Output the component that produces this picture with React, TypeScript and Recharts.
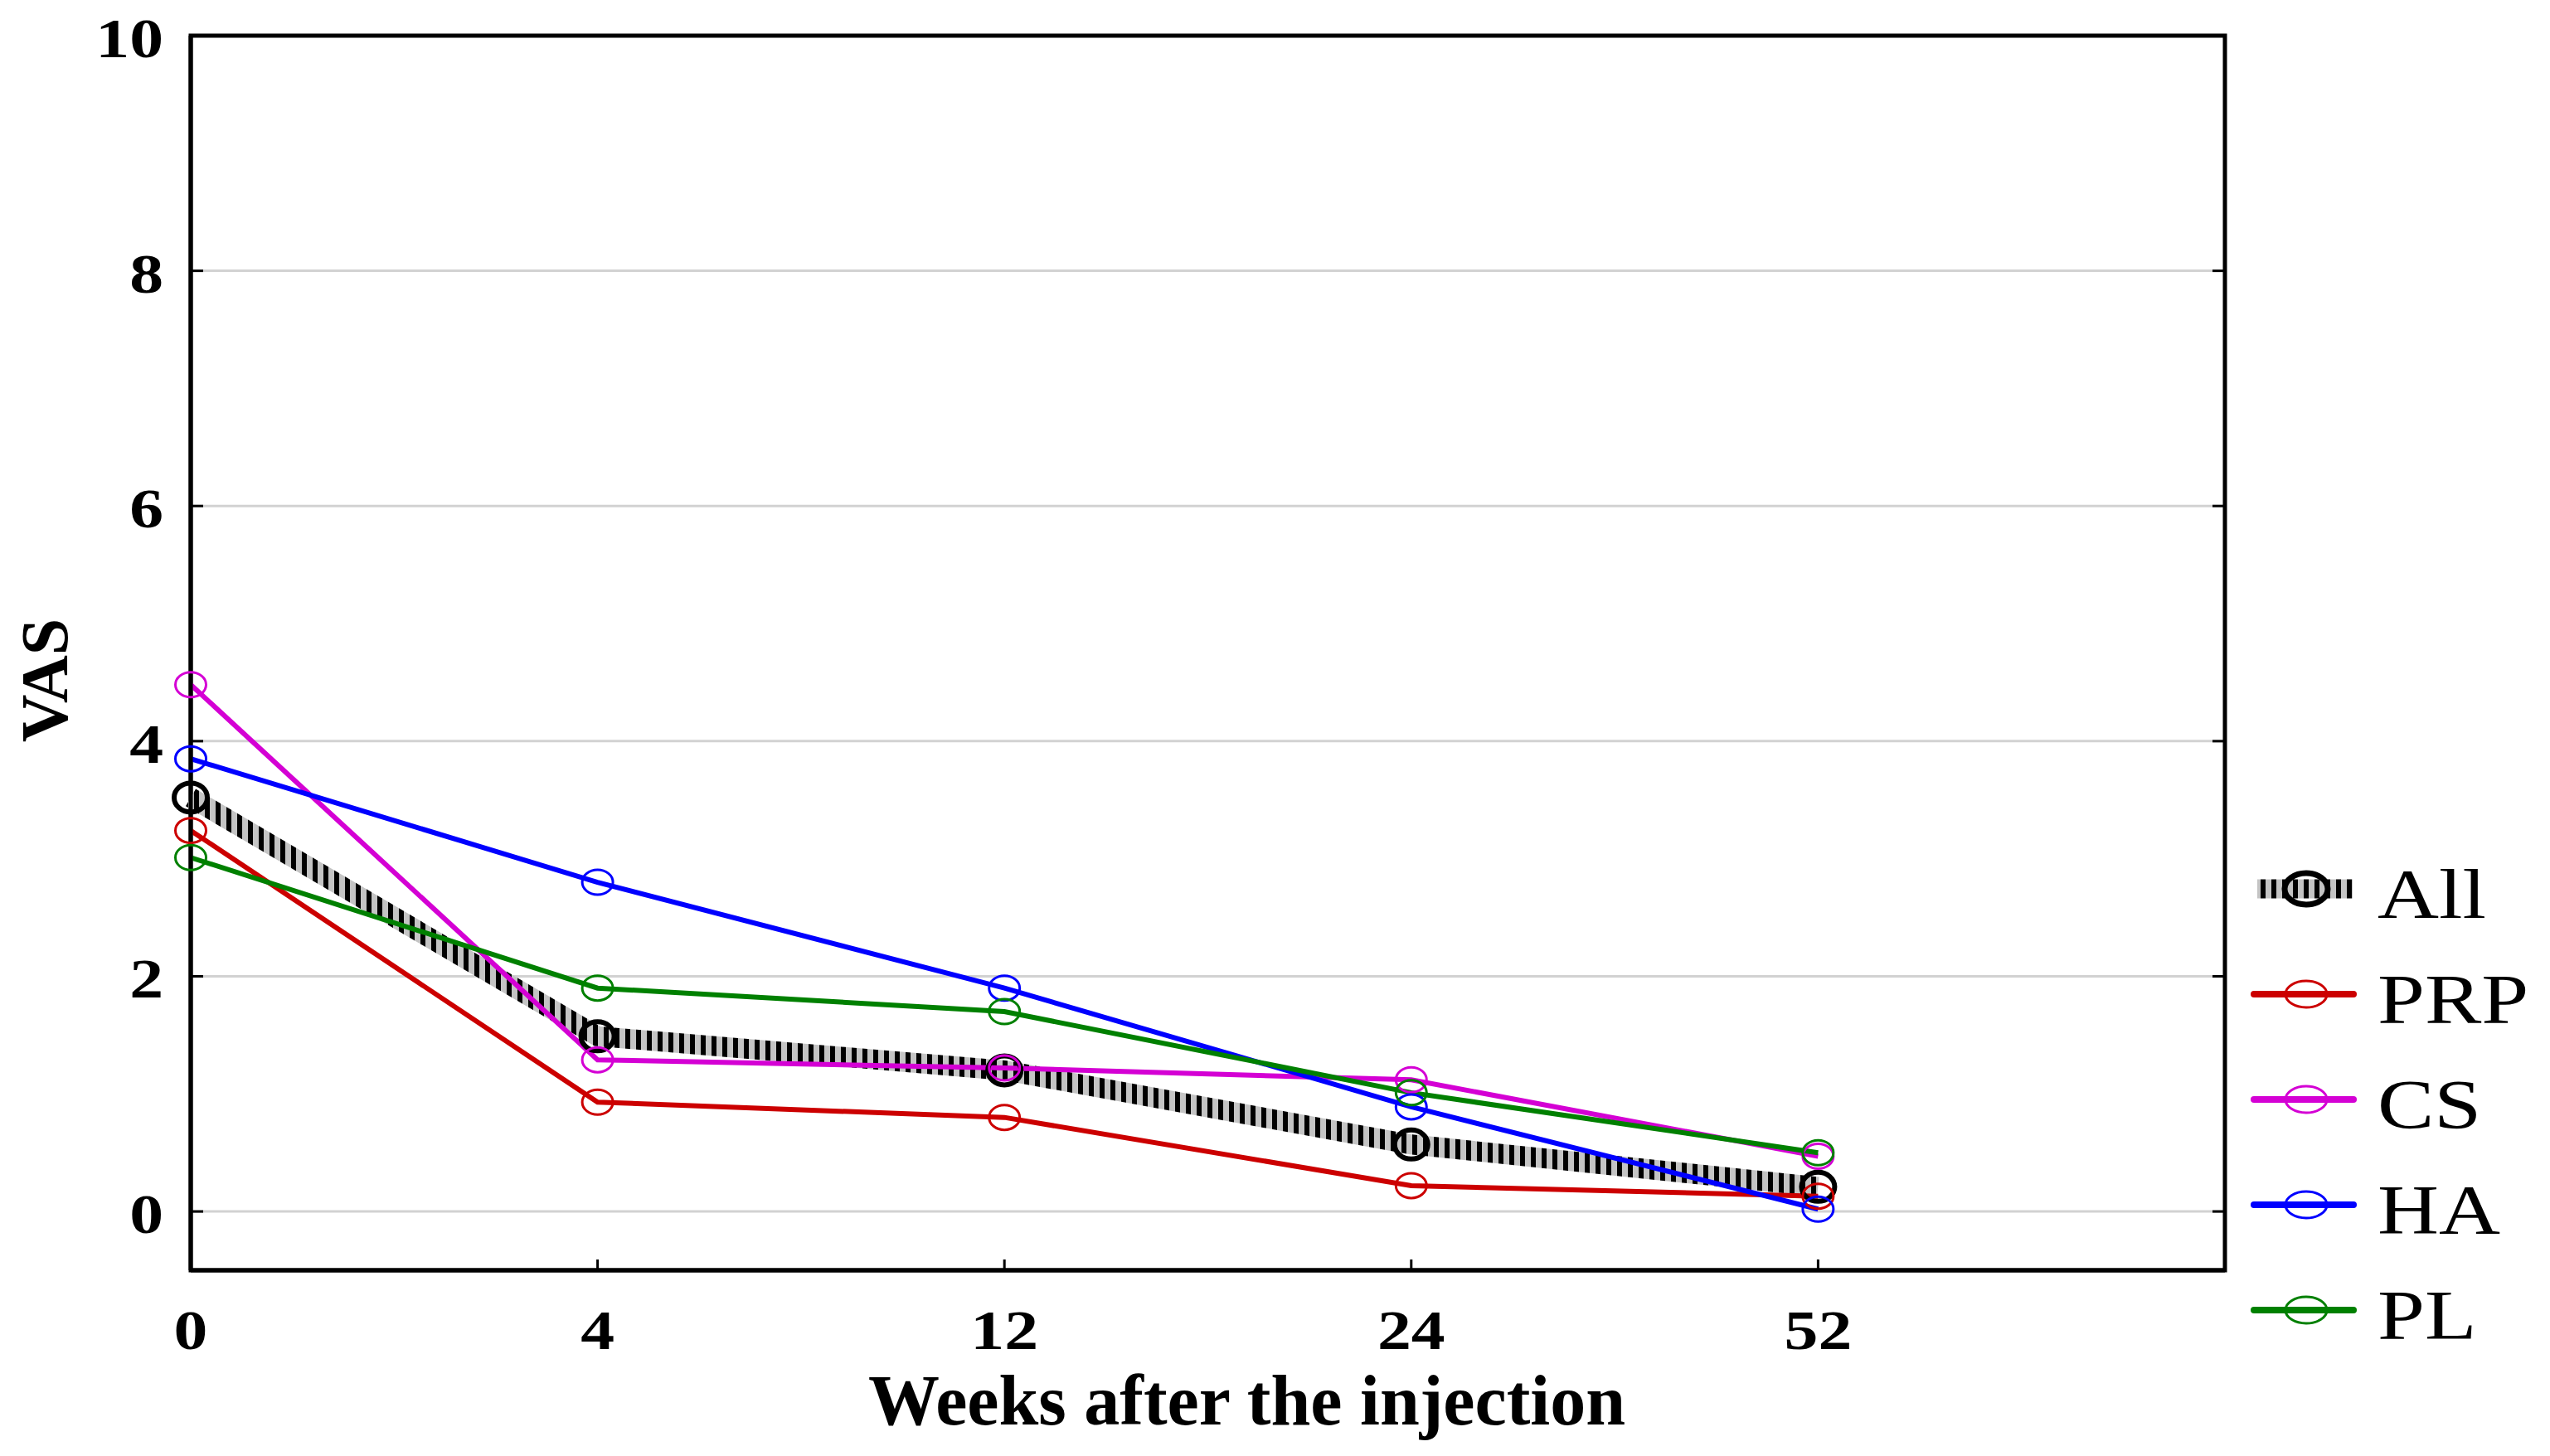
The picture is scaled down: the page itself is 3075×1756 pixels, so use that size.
import React from 'react';
import { LineChart, Line, XAxis, YAxis, CartesianGrid, Legend, ReferenceArea } from 'recharts';

const WEEKS = ['0', '4', '12', '24', '52'];
const ALL = [3.52, 1.49, 1.2, 0.57, 0.21];
const PRP = [3.24, 0.93, 0.8, 0.22, 0.13];
const CS = [4.48, 1.29, 1.22, 1.12, 0.47];
const HA = [3.85, 2.8, 1.9, 0.89, 0.02];
const PL = [3.01, 1.9, 1.7, 1.01, 0.5];
const Y_TICKS = [0, 2, 4, 6, 8, 10];
const X_TICKS = [0, 1, 2, 3, 4];
const X_DOMAIN: [number, number] = [0, 5];
const Y_DOMAIN: [number, number] = [-0.5, 10];
const SERIES_NAMES = ['All', 'PRP', 'CS', 'HA', 'PL'];
const SERIES_COLORS: Record<string, string> = {
  All: '#000000',
  PRP: '#cc0000',
  CS: '#d400d4',
  HA: '#0000ff',
  PL: '#008000',
};

const data = WEEKS.map((w, i) => ({
  idx: i,
  week: w,
  All: ALL[i],
  PRP: PRP[i],
  CS: CS[i],
  HA: HA[i],
  PL: PL[i],
}));

const CHART_W = 3075;
const CHART_H = 1756;
const MARGIN = { top: 43, right: 392, bottom: 0, left: 0 };
const Y_AXIS_W = 230;
const PLOT_W = CHART_W - MARGIN.right - MARGIN.left - Y_AXIS_W;

const SERIF = '"Liberation Serif", "Times New Roman", serif';

const YTick = (props: any) => {
  const { x, y, payload } = props;
  const inner = payload.value !== 10;
  return (
    <g>
      {inner && <line x1={x} y1={y} x2={x + 15} y2={y} stroke="#000" strokeWidth={3} />}
      {inner && (
        <line x1={x + PLOT_W} y1={y} x2={x + PLOT_W - 15} y2={y} stroke="#000" strokeWidth={3} />
      )}
      <text
        transform={`translate(${x - 33},${y + 26}) scale(1.22,1)`}
        textAnchor="end"
        fontFamily={SERIF}
        fontWeight="bold"
        fontSize={67}
        fill="#000"
      >
        {payload.value}
      </text>
    </g>
  );
};

const XTick = (props: any) => {
  const { x, y, payload } = props;
  return (
    <g>
      {payload.value !== 0 && (
        <line x1={x} y1={y} x2={x} y2={y - 13} stroke="#000" strokeWidth={3} />
      )}
      <text
        transform={`translate(${x},${y + 95}) scale(1.22,1)`}
        textAnchor="middle"
        fontFamily={SERIF}
        fontWeight="bold"
        fontSize={67}
        fill="#000"
      >
        {WEEKS[payload.value]}
      </text>
    </g>
  );
};

const makeDot = (color: string, rx: number, ry: number, sw: number) => (props: any) => {
  const { cx, cy, index } = props;
  return (
    <ellipse
      key={`dot-${color}-${index}`}
      cx={cx}
      cy={cy}
      rx={rx}
      ry={ry}
      fill="none"
      stroke={color}
      strokeWidth={sw}
    />
  );
};

const YLabel = (props: any) => {
  const vb = props.viewBox;
  const cx = vb.x + 55;
  const cy = vb.y + vb.height / 2 + 33;
  return (
    <text
      x={cx}
      y={cy}
      dy="0.33em"
      transform={`rotate(-90, ${cx}, ${cy})`}
      textAnchor="middle"
      fontFamily={SERIF}
      fontWeight="bold"
      fontSize={80}
      fill="#000"
    >
      VAS
    </text>
  );
};

const XLabel = (props: any) => {
  const vb = props.viewBox;
  return (
    <text
      x={vb.x + vb.width / 2 + 47}
      y={vb.y + 186}
      textAnchor="middle"
      fontFamily={SERIF}
      fontWeight="bold"
      fontSize={86}
      fill="#000"
    >
      Weeks after the injection
    </text>
  );
};

const LegendContent = () => (
  <svg width={380} height={640} style={{ overflow: 'visible' }}>
    {SERIES_NAMES.map((name, i) => {
      const cy = 72 + 127 * i;
      const color = SERIES_COLORS[name];
      return (
        <g key={name}>
          {name === 'All' ? (
            <g>
              <rect x={22} y={cy - 11.5} width={115} height={23} fill="url(#allStripe)" />
              <ellipse cx={81} cy={cy} rx={26} ry={19} fill="none" stroke="#000" strokeWidth={7} />
            </g>
          ) : (
            <g>
              <line x1={18} y1={cy} x2={138} y2={cy} stroke={color} strokeWidth={8} strokeLinecap="round" />
              <ellipse cx={81} cy={cy} rx={25} ry={16} fill="none" stroke={color} strokeWidth={3} />
            </g>
          )}
          <text
            transform={`translate(167,${cy + 35}) scale(1.22,1)`}
            fontFamily={SERIF}
            fontSize={84}
            fill="#000"
          >
            {name}
          </text>
        </g>
      );
    })}
  </svg>
);

export default function App() {
  return (
    <div
      style={{
        position: 'absolute',
        left: 0,
        top: 0,
        width: CHART_W,
        height: CHART_H,
        background: '#ffffff',
        overflow: 'hidden',
      }}
    >
      <svg width={0} height={0} style={{ position: 'absolute' }}>
        <defs>
          <pattern id="allStripe" patternUnits="userSpaceOnUse" width={13} height={13}>
            <rect x={0} y={0} width={13} height={13} fill="#c4c4c4" />
            <rect x={0} y={0} width={6} height={13} fill="#000000" />
          </pattern>
        </defs>
      </svg>
      <LineChart width={CHART_W} height={CHART_H} data={data} margin={MARGIN}>
        <CartesianGrid vertical={false} stroke="#d2d2d2" strokeWidth={3} />
        <XAxis
          dataKey="idx"
          type="number"
          domain={X_DOMAIN}
          ticks={X_TICKS}
          interval={0}
          height={CHART_H - MARGIN.top - 1489}
          tickSize={0}
          tickMargin={0}
          tickLine={false}
          axisLine={{ stroke: '#000', strokeWidth: 5 }}
          tick={<XTick />}
          label={<XLabel />}
        />
        <YAxis
          type="number"
          domain={Y_DOMAIN}
          ticks={Y_TICKS}
          interval={0}
          width={Y_AXIS_W}
          tickSize={0}
          tickMargin={0}
          tickLine={false}
          axisLine={{ stroke: '#000', strokeWidth: 5 }}
          tick={<YTick />}
          label={<YLabel />}
        />
        <Line
          dataKey="All"
          stroke="url(#allStripe)"
          strokeWidth={24}
          dot={makeDot('#000000', 20, 17.5, 6)}
          activeDot={false}
          isAnimationActive={false}
        />
        <Line
          dataKey="PRP"
          stroke={SERIES_COLORS.PRP}
          strokeWidth={6}
          dot={makeDot(SERIES_COLORS.PRP, 18.5, 15, 3)}
          activeDot={false}
          isAnimationActive={false}
        />
        <Line
          dataKey="CS"
          stroke={SERIES_COLORS.CS}
          strokeWidth={6}
          dot={makeDot(SERIES_COLORS.CS, 18.5, 15, 3)}
          activeDot={false}
          isAnimationActive={false}
        />
        <Line
          dataKey="HA"
          stroke={SERIES_COLORS.HA}
          strokeWidth={6}
          dot={makeDot(SERIES_COLORS.HA, 18.5, 15, 3)}
          activeDot={false}
          isAnimationActive={false}
        />
        <Line
          dataKey="PL"
          stroke={SERIES_COLORS.PL}
          strokeWidth={6}
          dot={makeDot(SERIES_COLORS.PL, 18.5, 15, 3)}
          activeDot={false}
          isAnimationActive={false}
        />
        <ReferenceArea
          x1={X_DOMAIN[0]}
          x2={X_DOMAIN[1]}
          y1={Y_DOMAIN[0]}
          y2={Y_DOMAIN[1]}
          fill="none"
          fillOpacity={0}
          stroke="#000"
          strokeWidth={5}
          strokeOpacity={1}
          ifOverflow="visible"
        />
        <Legend
          layout="vertical"
          align="center"
          verticalAlign="middle"
          wrapperStyle={{ position: 'absolute', left: 2700, top: 1000, width: 380, height: 640 }}
          content={<LegendContent />}
        />
      </LineChart>
    </div>
  );
}
